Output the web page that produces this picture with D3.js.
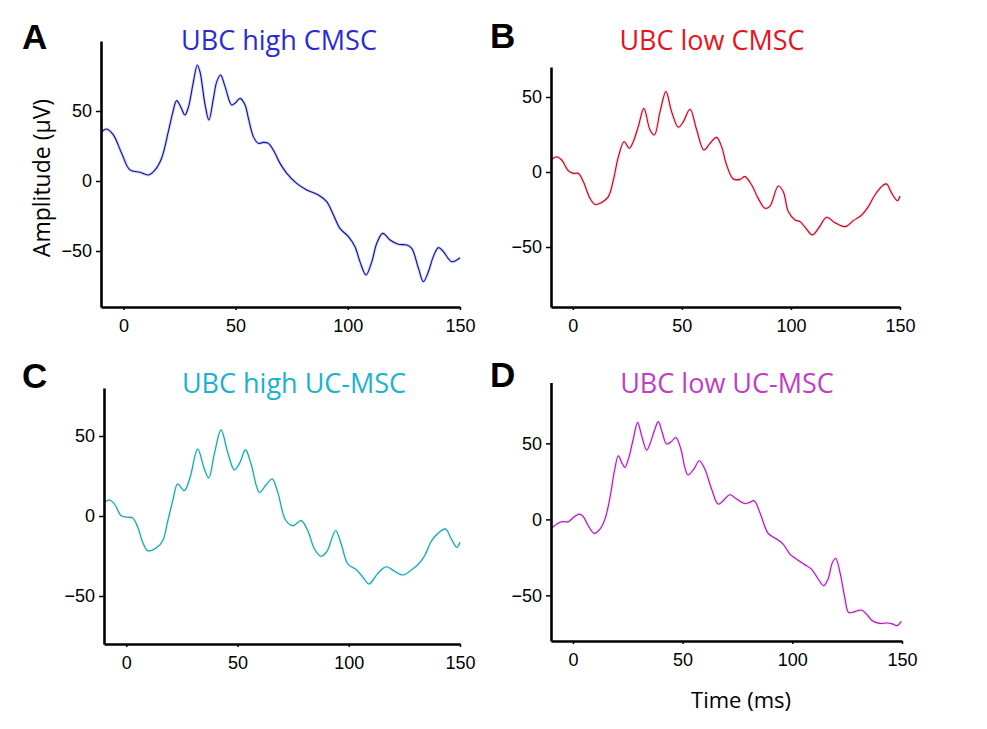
<!DOCTYPE html>
<html>
<head>
<meta charset="utf-8">
<script src="https://cdn.jsdelivr.net/npm/d3@7"></script>
<style>
  html, body { margin: 0; padding: 0; background: #fff; }
  svg { display: block; }
</style>
</head>
<body>
<svg id="chart" width="987" height="729"></svg>
<script>
// ---------- data (time in ms, amplitude in µV) ----------
const xTicks = [0, 50, 100, 150];
const yTicks = [-50, 0, 50];

const timeA = [-9.7,-7.5,-4.5,-0.8,2.9,7.4,11.1,14.1,17.0,20.0,21.9,23.7,25.5,27.4,28.9,31.2,32.9,34.1,36.4,38.1,40.1,41.6,43.3,45.3,48.2,49.7,52.0,54.2,55.7,57.9,60.1,62.4,64.6,66.8,69.8,72.8,77.2,81.7,86.9,90.6,93.6,96.5,100.3,103.2,105.4,108.1,110.7,112.9,115.6,118.8,122.5,126.3,128.5,131.5,133.7,135.9,138.1,140.4,142.6,146.3,150.0];
const ampA  = [35.2,37.1,32.9,19.8,7.9,6.2,4.3,7.9,16.2,35.2,48.3,57.4,53.1,47.1,52.4,71,82.9,78.1,54.3,43.6,59,71,75.7,67.4,54.3,55.5,59,54.3,44.8,31.7,26.9,27.6,26.9,22.1,12.6,5.5,-1.7,-6.4,-10,-14.8,-24.3,-33.8,-39.8,-46.9,-57.6,-67.1,-57.6,-44.5,-37.4,-42.1,-45.2,-45.7,-48.1,-62.4,-71.9,-64.8,-54,-47.6,-50.5,-57.6,-54.8];

const timeB = [-9.7,-7.4,-5.1,-2.1,0.2,2.5,4.8,7.9,10.2,13.2,16.3,18.6,20.9,23.5,25.9,27.7,30.0,32.6,35.4,37.4,40.0,42.7,45.3,48.4,50.7,53.7,56.8,60.1,62.9,65.9,68.2,70.5,73.6,76.7,78.9,82.0,85.0,88.1,90.4,94.2,96.5,98.8,101.9,104.2,106.9,109.8,112.6,116.4,120.2,124.8,128.6,132.4,135.5,138.5,142.4,143.9,146.2,148.8,150.0];
const ampB  = [8.4,10.2,8,0.9,-0.9,-0.9,-6.4,-17.6,-21.6,-20.4,-16.4,-5.3,10.2,20.2,15.8,20.2,30.2,42.4,28,24.7,40.2,53.6,40.2,29.8,33.6,41.8,28,14.7,19.1,23.1,16.9,4.7,-4.7,-4.9,-3.1,-8.7,-17.6,-24.2,-22.7,-9.3,-13.1,-26.4,-32,-33.1,-37.6,-42,-37.6,-30.2,-33.8,-36.4,-32.4,-28.7,-23.1,-15.3,-8.7,-8,-14.2,-19.1,-16];

const timeC = [-9.8,-7.6,-5.3,-2.3,0.7,2.9,5.2,7.4,9.7,13.4,16.4,18.7,20.9,23.1,26.1,28.7,32.1,35.1,37.1,39.6,42.6,45.6,48.6,50.9,53.6,56.1,59.9,62.9,65.6,68.1,71.6,74.9,78.6,81.6,84.6,87.6,90.2,94.1,96.6,99.6,103.4,106.4,109.1,113.1,116.9,120.6,124.4,128.1,131.1,134.1,137.1,140.1,143.5,146.1,148.6,150.0];
const ampC  = [8.6,10,7.5,0.2,-0.8,-1.2,-7.1,-16.4,-21.7,-20,-15.4,-2.9,9.6,20,15.9,24.2,41.9,29.4,23.8,38.8,53.8,39.8,28.8,32.9,41.3,32.5,14.8,19.6,23.1,14.8,-2.5,-6,-2.9,-9.2,-20.6,-25.2,-22.1,-9.2,-17.5,-30,-33.5,-38.3,-42.5,-35.8,-31.7,-34.6,-36.9,-33.7,-30.4,-24.8,-15.8,-10.8,-8.1,-14.4,-19.6,-16.4];

const timeD = [-9.7,-7.4,-5.1,-2.1,0.2,2.9,4.7,7.0,9.7,12.3,14.6,16.9,18.8,20.7,22.2,23.7,25.5,27.5,29.5,31.3,33.6,35.1,37.1,38.9,40.7,42.7,44.9,46.9,49.2,51.0,52.5,55.1,57.6,60.1,63.2,66.2,68.5,71.5,74.6,78.4,80.6,82.6,85.2,89.0,92.8,95.8,98.9,101.9,105.7,108.7,111.8,114.3,116.3,118.3,119.8,121.9,123.9,125.7,128.5,131.5,133.8,136.5,139.8,142.9,145.9,147.7,149.7];
const ampD  = [-5.7,-3.1,-1.5,-1.5,1.3,3.5,1.8,-4.2,-9.2,-6.4,0.2,14.5,30.9,41.9,37.5,34.2,40.8,52.9,63.8,55.1,45.6,49.6,58.3,64.3,57.2,49.6,51.3,53.9,46.3,34.2,29.2,33.1,38.6,33.1,20,10.1,12.3,16.2,13.4,10.5,11.2,12.3,4.6,-9.2,-12.9,-16.2,-22.8,-26.1,-29.8,-32.7,-39.2,-43.6,-39.2,-28.3,-25.7,-36,-51.3,-61.2,-60.7,-59.6,-62.3,-66.7,-68.4,-68.2,-68.9,-69.9,-67.1];

const panelLetters = ["A", "B", "C", "D"];
const panelTitles  = ["UBC high CMSC", "UBC low CMSC", "UBC high UC-MSC", "UBC low UC-MSC"];

// ---------- layout / style ----------
const panels = [
  { letter: panelLetters[0], title: panelTitles[0], t: timeA, v: ampA,
    xr: [101, 460], yd: [-90, 100], yr: [307, 41],
    titleX: 279, titleY: 50, letterX: 22, letterY: 49,
    titleColor: "#2a2ad6", lineColor: "#10108e", glow: "#9aa0ff" },
  { letter: panelLetters[1], title: panelTitles[1], t: timeB, v: ampB,
    xr: [551, 900], yd: [-90, 70], yr: [307, 67],
    titleX: 712, titleY: 50, letterX: 490, letterY: 48,
    titleColor: "#e8141c", lineColor: "#c0001c", glow: "#ffb0b8" },
  { letter: panelLetters[2], title: panelTitles[2], t: timeC, v: ampC,
    xr: [104, 460], yd: [-80, 80], yr: [644, 388],
    titleX: 294, titleY: 393, letterX: 22, letterY: 388,
    titleColor: "#19b2cf", lineColor: "#1c98a2", glow: "#9ff0f5" },
  { letter: panelLetters[3], title: panelTitles[3], t: timeD, v: ampD,
    xr: [551, 902], yd: [-80, 90], yr: [641, 382.6],
    titleX: 727, titleY: 393, letterX: 490, letterY: 387,
    titleColor: "#c23cc4", lineColor: "#a01cae", glow: "#ffb4ff" }
];

const svg = d3.select("#chart");

panels.forEach(p => {
  const x = d3.scaleLinear().domain([-10, 150]).range(p.xr);
  const y = d3.scaleLinear().domain(p.yd).range(p.yr);
  const g = svg.append("g");

  const pts = p.t.map((t, i) => [t, p.v[i]]);
  const line = d3.line().x(d => x(d[0])).y(d => y(d[1]))
    .curve(d3.curveCatmullRom.alpha(0.5));

  // faint halo like the anti-aliased original
  g.append("path").datum(pts).attr("d", line)
    .attr("fill", "none").attr("stroke", p.glow).attr("stroke-width", 3)
    .attr("stroke-opacity", 0.45).attr("stroke-linejoin", "round");
  g.append("path").datum(pts).attr("d", line)
    .attr("fill", "none").attr("stroke", p.lineColor).attr("stroke-width", 1.1)
    .attr("stroke-linejoin", "round");

  // x axis
  const xAxis = g.append("g").attr("transform", `translate(0,${p.yr[0]})`)
    .call(d3.axisBottom(x).tickValues(xTicks).tickSize(3).tickSizeOuter(0).tickPadding(8));
  // y axis
  const yAxis = g.append("g").attr("transform", `translate(${p.xr[0]},0)`)
    .call(d3.axisLeft(y).tickValues(yTicks).tickSize(5).tickSizeOuter(0).tickPadding(4));

  [xAxis, yAxis].forEach(a => {
    a.select(".domain").attr("stroke", "#000").attr("stroke-width", 2.6);
    a.selectAll(".tick line").attr("stroke", "#000").attr("stroke-width", 1.5);
    a.selectAll(".tick text").attr("fill", "#000")
      .style("font-family", "'Liberation Sans', Arial, sans-serif")
      .style("font-size", "18px");
  });
  xAxis.selectAll(".tick text").attr("dy", "0.8em");

  // panel letter
  svg.append("text").attr("x", p.letterX).attr("y", p.letterY)
    .text(p.letter)
    .style("font-family", "'Liberation Sans', Arial, sans-serif")
    .style("font-weight", "bold").style("font-size", "35px").attr("fill", "#000");

  // title
  svg.append("text").attr("x", p.titleX).attr("y", p.titleY)
    .attr("text-anchor", "middle").text(p.title)
    .style("font-family", "'Open Sans', 'Noto Sans', sans-serif")
    .style("font-size", "27px").attr("fill", p.titleColor);
});

// axis titles
svg.append("text")
  .attr("transform", "translate(50,178) rotate(-90)")
  .attr("text-anchor", "middle")
  .text("Amplitude (\u03bcV)")
  .style("font-family", "'Open Sans', 'Noto Sans', sans-serif")
  .style("font-size", "23px").attr("fill", "#000");

svg.append("text")
  .attr("x", 741).attr("y", 708)
  .attr("text-anchor", "middle")
  .text("Time (ms)")
  .style("font-family", "'Open Sans', 'Noto Sans', sans-serif")
  .style("font-size", "22px").attr("fill", "#000");
</script>
</body>
</html>
